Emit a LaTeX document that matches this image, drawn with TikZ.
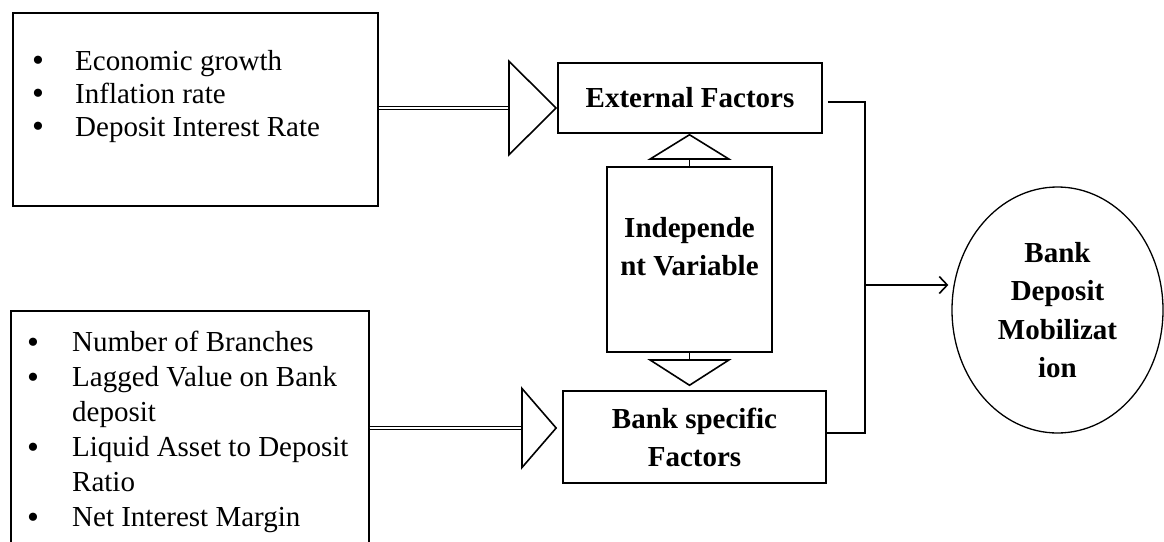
\documentclass[tikz,border=0pt]{standalone}
\usepackage{fontspec}
\setmainfont{Liberation Serif}
\usepackage{tikz}
\usetikzlibrary{arrows.meta,shapes.geometric}
\tikzstyle{listbox}=[rectangle,draw=black,line width=1.6pt,
                     anchor=north west,inner sep=0pt]
\tikzstyle{listtext}=[anchor=north west,inner sep=0pt,align=left]
\tikzstyle{factorbox}=[rectangle,draw=black,line width=1.6pt,align=center,
                       inner sep=0pt,font=\fontsize{29}{38}\selectfont\bfseries]
\tikzstyle{outcome}=[ellipse,draw=black,line width=1.3pt,align=center,
                     inner sep=0pt,minimum width=211pt,minimum height=246pt,
                     font=\fontsize{29}{38.5}\selectfont\bfseries]
\tikzstyle{feed}=[double,line width=1.5pt,double distance=1.5pt]
\tikzstyle{link}=[line width=1.6pt]
\newcommand{\bigdot}{\raisebox{-1.5pt}{\fontsize{34}{34}\selectfont\textbullet}}

\begin{document}
\begin{tikzpicture}[x=1pt,y=-1pt]
    \useasboundingbox (0,0) rectangle (1164,541);
    \clip (0,0) rectangle (1164,541);
    \node (extlist) at (12,12) [listbox,minimum width=365pt,minimum height=193pt]{};
    \node (extitems) at (32,47) [listtext,font=\fontsize{29}{33}\selectfont]{%
      \begin{tabular}{@{}p{43pt}@{}l@{}}
        \bigdot & Economic growth\\
        \bigdot & Inflation rate\\
        \bigdot & Deposit Interest Rate
      \end{tabular}};
    \node (banklist) at (10,310) [listbox,minimum width=358pt,minimum height=260pt]{};
    \node (bankitems) at (27,327) [listtext,font=\fontsize{29}{35}\selectfont]{%
      \begin{tabular}{@{}p{45pt}@{}l@{}}
        \bigdot & Number of Branches\\
        \bigdot & Lagged Value on Bank\\
                & deposit\\
        \bigdot & Liquid Asset to Deposit\\
                & Ratio\\
        \bigdot & Net Interest Margin
      \end{tabular}};
    \node (ext) at (690,98) [factorbox,minimum width=264pt,minimum height=70pt]{External Factors};
    \node (indep) at (689.5,259.5) [factorbox,minimum width=165pt,minimum height=185pt]{};
    \node (indeplabel) at ([yshift=13pt]indep.center) [factorbox,draw=none]{Independe\\nt Variable};
    \node (bank) at (694.5,437) [factorbox,minimum width=263pt,minimum height=92pt]{Bank specific\\Factors};
    \node (dep) at (1057.5,310) [outcome]{Bank\\Deposit\\Mobilizat\\ion};
    \coordinate (extin) at ([yshift=-10pt]ext.west);
    \coordinate (bankin) at ([xshift=-5pt,yshift=9pt]bank.west);
    \coordinate (bus) at (865,285);
    \draw[feed] (extlist.east |- extin) -- ([xshift=-49pt]extin);
    \draw[line width=1.6pt,-{Triangle[open,length=49pt,width=97pt]}]
      ([xshift=-49pt]extin) -- (extin);
    \draw[feed] (banklist.east |- bankin) -- ([xshift=-36pt]bankin);
    \draw[line width=1.6pt,-{Triangle[open,length=36pt,width=83pt]}]
      ([xshift=-36pt]bankin) -- (bankin);
    \draw[line width=1.6pt,-{Triangle[open,length=26pt,width=84pt]}]
      (indep.north) -- (indep.north |- ext.south);
    \draw[line width=1.6pt,-{Triangle[open,length=27pt,width=84pt]}]
      (indep.south) -- ([yshift=4pt]indep.south |- bank.north);
    \draw[link] ([xshift=5pt,yshift=-4pt]ext.east) -| (bus) |- ([yshift=4pt]bank.east);
    \draw[link,-{Straight Barb[length=8pt,width=17pt]},shorten >=3pt] (bus) -- (bus -| dep.west);
  \end{tikzpicture}
\end{document}
